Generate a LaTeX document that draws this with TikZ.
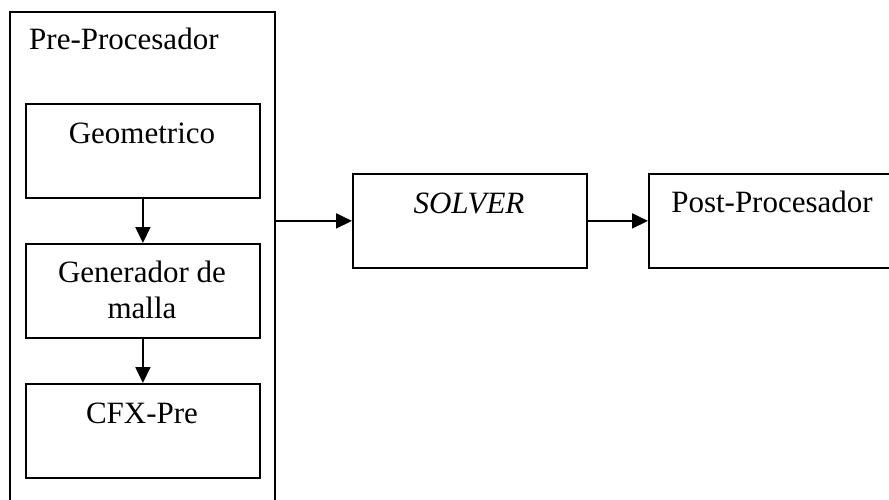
\documentclass[tikz,border=0pt]{standalone}
\usepackage{fontspec}
\setmainfont{Liberation Serif}
\usetikzlibrary{arrows.meta}
\begin{document}
\begin{tikzpicture}[x=1pt,y=-1pt,
  boxshape/.style={draw, line width=1.8pt, rectangle, inner sep=0pt, anchor=north west},
  lbl/.style={anchor=base, inner sep=0pt, align=center, font=\fontsize{31}{36}\selectfont},
  arr/.style={line width=1.8pt, -{Triangle[length=16pt,width=15pt]}}]
\useasboundingbox (0,0) rectangle (889,500);
\clip (0,0) rectangle (889,500);
\node[boxshape, minimum width=265pt, minimum height=509pt] (outer) at (9,11) {};
\node[lbl, anchor=base west] (pretxt) at (29,50) {Pre-Procesador};
\node[boxshape, minimum width=234pt, minimum height=94pt] (geo) at (25,103) {};
\node[lbl] (geotxt) at (142,143) {Geometrico};
\node[boxshape, minimum width=234pt, minimum height=94pt] (gen) at (25,243) {};
\node[lbl] (gentxt) at (142,318) {Generador de\\malla};
\node[boxshape, minimum width=234pt, minimum height=94pt] (cfx) at (25,383) {};
\node[lbl] (cfxtxt) at (142,423) {CFX-Pre};
\node[boxshape, minimum width=234pt, minimum height=94pt] (solver) at (352,173) {};
\node[lbl] (solvertxt) at (469,213) {\itshape SOLVER};
\node[boxshape, minimum width=250pt, minimum height=94pt] (post) at (648,173) {};
\node[lbl] (posttxt) at (772,212) {Post-Procesador};
\draw[arr] (geo.south) -- (gen.north);
\draw[arr] (gen.south) -- (cfx.north);
\draw[arr] (outer.east |- solver.west) -- (solver.west);
\draw[arr] (solver.east) -- (post.west);
\end{tikzpicture}
\end{document}
